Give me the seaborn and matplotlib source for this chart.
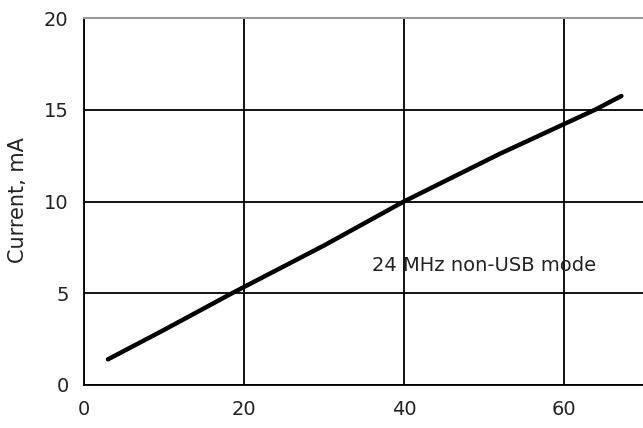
import matplotlib
matplotlib.use("Agg")
import matplotlib.pyplot as plt
import pandas as pd
import seaborn as sns

# Values
freq_mhz = [3, 10, 18.5, 30, 40, 52, 63.9, 67.2]
current_ma = [1.4, 3.0, 5.0, 7.6, 10.0, 12.6, 15.0, 15.75]
x_ticks = [0, 20, 40, 60]
y_ticks = [0, 5, 10, 15, 20]
note = "24 MHz non-USB mode"

df = pd.DataFrame({"freq": freq_mhz, "current": current_ma})

sns.set_style("white")
plt.rcParams["font.family"] = ["DejaVu Sans"]

fig = plt.figure(figsize=(6.43, 4.28), dpi=100)
ax = fig.add_axes([84 / 643, 43 / 428, 1 - 84 / 643, (385 - 18) / 428])

sns.lineplot(data=df, x="freq", y="current", ax=ax, color="black", linewidth=3.2)

ax.set_xlim(0, 69.9)
ax.set_ylim(0, 20)
ax.set_xticks(x_ticks)
ax.set_yticks(y_ticks)
ax.grid(True, color="black", linewidth=1.3)
ax.tick_params(axis="both", direction="out", length=5, width=1.3, color="black",
               labelsize=14, labelcolor="#222222", pad=6)

ax.spines["right"].set_visible(False)
ax.spines["left"].set_color("black")
ax.spines["bottom"].set_color("black")
ax.spines["left"].set_linewidth(1.3)
ax.spines["bottom"].set_linewidth(1.3)
ax.spines["top"].set_color("#999999")
ax.spines["top"].set_linewidth(1.5)

ax.set_xlabel("")
ax.set_ylabel("")
# label sits partly off the left edge, as in the original
fig.text(28 / 643, 1 - 200 / 428, "Current, mA", rotation=90, ha="right", va="center",
         fontsize=15, color="#222222")

ax.text(36, 6.5, note, fontsize=14, color="#222222", va="center", ha="left")

fig.savefig("out.png", dpi=100)
